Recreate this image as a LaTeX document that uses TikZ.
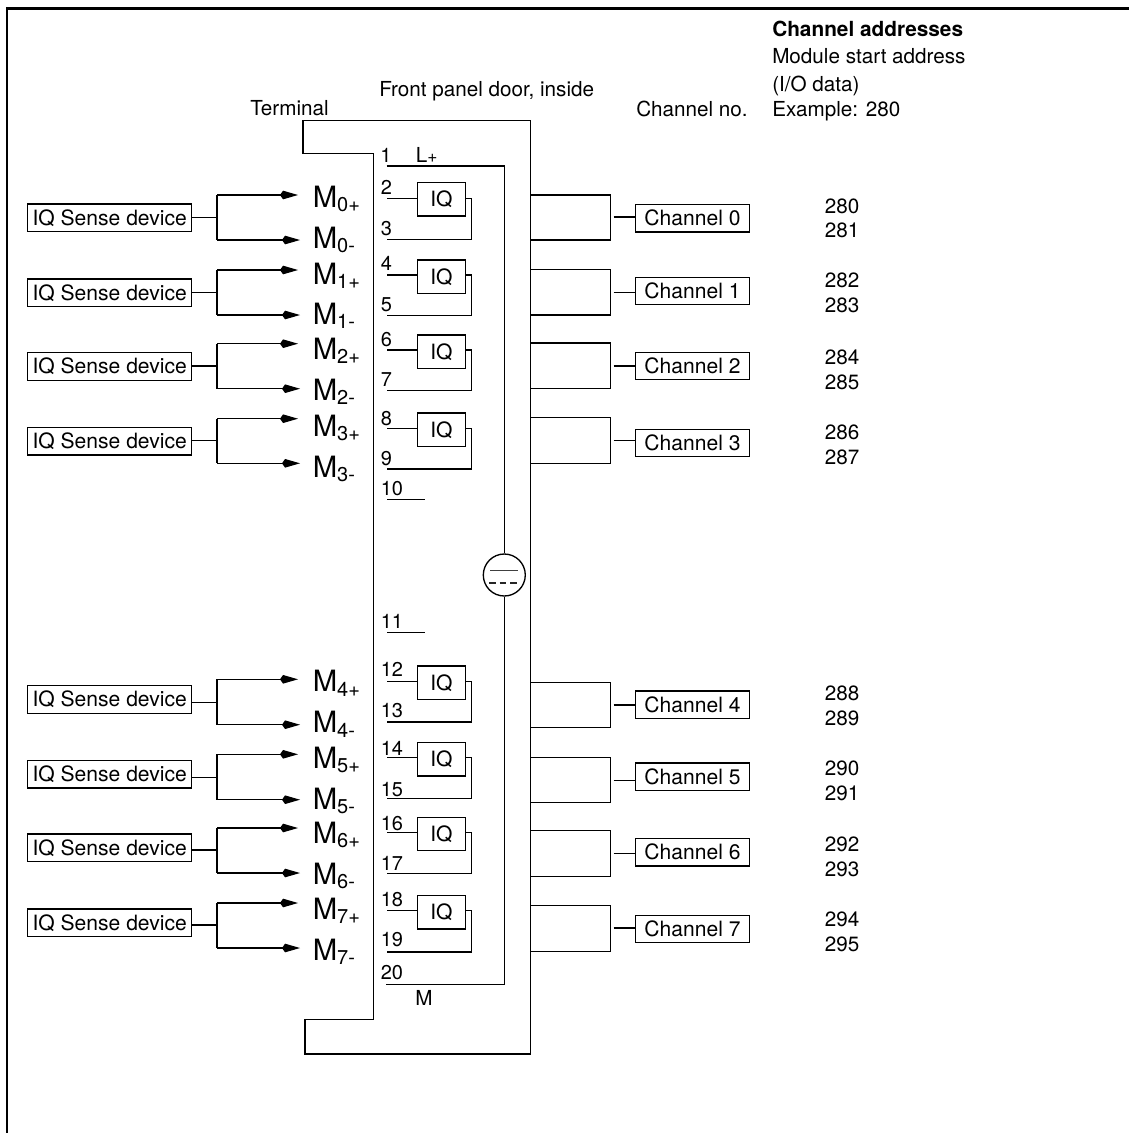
\documentclass[tikz,border=0pt]{standalone}
\usepackage{fontspec}
\setmainfont{TeX Gyre Heros}
\usetikzlibrary{arrows.meta}
\tikzset{
  x=0.75pt,y=-0.75pt,
  wire/.style={draw=black,line width=1pt},
  frameline/.style={draw=black,line width=1.7pt},
  arrowwire/.style={wire,-{Kite[length=13.5pt,width=6.5pt,inset=2.3pt]}},
  labl/.style={inner sep=0pt,font=\fontsize{15.5}{15}\selectfont,anchor=base west},
  num/.style={inner sep=0pt,font=\fontsize{15}{15}\selectfont,anchor=base west},
  mlab/.style={inner sep=0pt,font=\fontsize{22}{22}\selectfont,anchor=base west},
  box/.style={wire,inner sep=0pt,minimum height=20.6pt,font=\fontsize{15.8}{15}\selectfont},
  devbox/.style={box,minimum width=123pt},
  chbox/.style={box,minimum width=85.2pt},
  iqbox/.style={box,minimum width=36.3pt,minimum height=25pt},
}
\newcommand{\msub}[2]{M\raisebox{-3.3pt}{\fontsize{15}{15}\selectfont #1#2}}
\begin{document}
\begin{tikzpicture}
\useasboundingbox (0,0) rectangle (1129,1133);
% outer frame
\coordinate (fa) at (7,1133);
\coordinate (fb) at (7,8.5);
\coordinate (fc) at (1129,8.5);
\draw[frameline] (fa) -- (fb) -- (fc);
% door and terminal outline
\coordinate (d1) at (303,120.3);
\coordinate (d2) at (530.7,120.3);
\coordinate (d3) at (530.7,1054);
\coordinate (d4) at (305,1054);
\coordinate (t1) at (303,153.7);
\coordinate (t2) at (373.7,153.7);
\coordinate (t3) at (373.7,1019.3);
\coordinate (t4) at (305,1019.3);
\draw[wire] (t1) -- (d1) -- (d2) -- (d3) -- (d4) -- (t4) -- (t3) -- (t2) -- cycle;
% headings
\node[labl,font=\fontsize{15.6}{15}\selectfont\bfseries] (h1) at (772,36) {Channel addresses};
\node[labl] (h2) at (772,63.3) {Module start address};
\node[labl] (h3) at (772,91) {(I/O data)};
\node[labl] (h4) at (772,116.7) {Example: 280};
\node[labl] (h5) at (636,116.7) {Channel no.};
\node[labl] (h6) at (379,96.7) {Front panel door, inside};
\node[labl] (h7) at (250,115) {Terminal};
% supply
\node[num] (n1) at (380,162.7) {1};
\node[labl] (lp) at (415.5,162.7) {L{\fontsize{13}{13}\selectfont +}};
\coordinate (s1) at (386.7,166);
\coordinate (s2) at (504.3,166);
\node[circle,wire,minimum size=31.5pt,inner sep=0pt] (conv) at (504.3,575) {};
\draw[wire] (s1) -- (s2) -- (conv.north);
\coordinate (s3) at (504.3,984.7);
\coordinate (s4) at (386,984.7);
\draw[wire] (conv.south) -- (s3) -- (s4);
\coordinate (c1) at (490,570.7);
\coordinate (c2) at (517.7,570.7);
\coordinate (c3) at (489,583);
\coordinate (c4) at (520,583);
\draw[draw=black!75,line width=0.8pt] (c1) -- (c2);
\draw[draw=black!85,line width=0.8pt,dash pattern=on 5pt off 3pt] (c3) -- (c4);
\node[labl] (mm) at (415,1005) {M};
\node[num] (n10) at (380.5,495.7) {10};
\coordinate (n10a) at (387.3,499.3);
\coordinate (n10b) at (425,499.3);
\draw[wire] (n10a) -- (n10b);
\node[num] (n11) at (380.5,628.3) {11};
\coordinate (n11a) at (387.3,632.7);
\coordinate (n11b) at (425,632.7);
\draw[wire] (n11a) -- (n11b);
\node[num] (n20) at (380.5,979.3) {20};
% channels
\foreach \vi/\vdev/\vstem/\vap/\vam/\vmp/\vmm/\viq/\vline/\vlo/\vna/\vnay/\vnb/\vnby/\vrt/\vrb/\vch/\vchs/\vad/\vady/\vaz/\vazy in {
 0/217.8/217.7/195/240/207.3/248.3/199.3/198.3/239.3/2/194/3/235.7/195/240/218.3/217/280/213.3/281/237.7,
 1/292.8/292.7/270/315/284/324/276.7/275/315.7/4/270.7/5/311.7/269.3/315/291/292.7/282/287.3/283/312.7,
 2/366.5/366/343.7/388.7/359/400/351.7/350/390.3/6/346/7/386.7/343/388.3/366/366/284/364/285/389,
 3/441.3/440.3/418.7/463.3/436/477/429.7/428.3/469/8/425/9/465/417.7/463.3/443/440.3/286/439/287/464,
 4/699.5/702.3/679.3/724.7/691.7/732.7/682.7/681.7/722/12/676.7/13/717.7/682.3/727.7/704.8/705/288/700/289/725,
 5/774.3/777.3/754.3/799.7/768.3/809/759.3/757.7/798.7/14/755/15/796/757.3/802.7/776.8/780.3/290/775/291/800,
 6/847.8/850/828/873/843.3/884/834/832.7/873.7/16/830/17/870.7/830.7/876.3/852.3/853.7/292/851/293/876,
 7/922.7/925/903/948/919.3/960/912.3/910.7/952/18/906.7/19/946.7/905.7/951.3/929/928/294/926/295/951}{
  % device side
  \node[devbox] (dev\vi) at (109.7,\vdev) {IQ Sense device};
  \coordinate (bl\vi) at (191.7,\vstem);
  \coordinate (br\vi) at (217,\vstem);
  \coordinate (bt\vi) at (217,\vap);
  \coordinate (bb\vi) at (217,\vam);
  \coordinate (at\vi) at (298,\vap);
  \coordinate (ab\vi) at (300,\vam);
  \draw[wire] (bl\vi) -- (br\vi);
  \draw[wire] (bt\vi) -- (bb\vi);
  \draw[arrowwire] (bt\vi) -- (at\vi);
  \draw[arrowwire] (bb\vi) -- (ab\vi);
  \node[mlab] (mp\vi) at (312.5,\vmp) {\msub{\vi}{+}};
  \node[mlab] (mm\vi) at (312.5,\vmm) {\msub{\vi}{-}};
  % IQ element
  \node[iqbox] (iq\vi) at (441.5,\viq) {IQ};
  \node[num] (na\vi) at (380.5,\vnay) {\vna};
  \node[num] (nb\vi) at (380.5,\vnby) {\vnb};
  \coordinate (ia\vi) at (387.3,\vline);
  \coordinate (ie\vi) at (417.3,\vline);
  \coordinate (if\vi) at (465.7,\vline);
  \coordinate (ib\vi) at (471.7,\vline);
  \coordinate (ic\vi) at (471.7,\vlo);
  \coordinate (id\vi) at (387.3,\vlo);
  \draw[wire] (ia\vi) -- (ie\vi);
  \draw[wire] (if\vi) -- (ib\vi) -- (ic\vi) -- (id\vi);
  % channel side
  \coordinate (ra\vi) at (530.7,\vrt);
  \coordinate (rb\vi) at (610.5,\vrt);
  \coordinate (rc\vi) at (610.5,\vrb);
  \coordinate (rd\vi) at (530.7,\vrb);
  \coordinate (re\vi) at (613.5,\vchs);
  \coordinate (rf\vi) at (635.7,\vchs);
  \draw[wire] (ra\vi) -- (rb\vi) -- (rc\vi) -- (rd\vi);
  \node[chbox] (ch\vi) at (692.5,\vch) {Channel \vi\hspace{3.5pt}};
  \draw[wire] (re\vi) -- (rf\vi);
  \node[labl] (ada\vi) at (824.5,\vady) {\vad};
  \node[labl] (adb\vi) at (824.5,\vazy) {\vaz};
}
\end{tikzpicture}
\end{document}
